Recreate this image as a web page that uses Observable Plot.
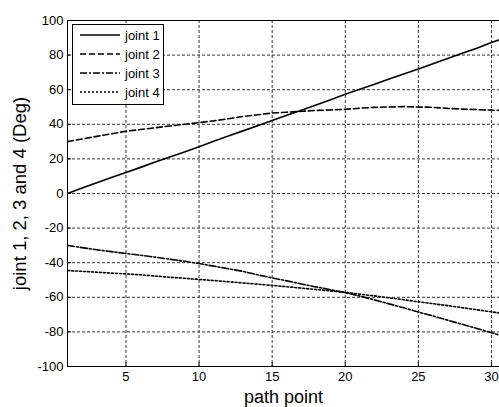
<!DOCTYPE html>
<html>
<head>
<meta charset="utf-8">
<script src="https://cdn.jsdelivr.net/npm/d3@7"></script>
<script src="https://cdn.jsdelivr.net/npm/@observablehq/plot@0.6"></script>
<style>
  body { margin: 0; background: #fff; }
  #chart svg { display: block; }
</style>
</head>
<body>
<div id="chart"></div>
<script>
const pathPoints = d3.range(1, 32);
const joint1 = [0, 3.2, 6.2, 9.2, 12.2, 15.1, 18.2, 21.1, 24.0, 27.0, 30.2, 33.3, 36.2, 39.2, 42.2, 45.2, 48.1, 51.1, 54.2, 57.3, 60.3, 63.2, 66.2, 69.1, 72.0, 75.0, 78.0, 81.0, 84.0, 87.3, 90.3];
const joint2 = [30, 31.5, 33, 34.5, 36, 37, 38, 39, 40, 41, 42, 43.2, 44.5, 45.5, 46.5, 47, 47.5, 48, 48.3, 48.7, 49.3, 49.8, 50, 50.2, 50, 49.8, 49.2, 48.8, 48.5, 48.2, 48];
const joint3 = [-30, -31.3, -32.5, -33.6, -34.7, -35.7, -36.8, -38, -39.2, -40.5, -42, -43.5, -45, -47, -48.8, -50.5, -52.3, -54, -55.6, -57.3, -59.3, -61.5, -63.8, -66.1, -68.5, -70.8, -73.2, -75.6, -78, -80.5, -83];
const joint4 = [-44.5, -45, -45.5, -46, -46.5, -47, -47.7, -48.4, -49, -49.7, -50.3, -51, -51.7, -52.4, -53.1, -53.9, -54.7, -55.5, -56.3, -57.2, -58.2, -59.2, -60.3, -61.4, -62.6, -63.7, -64.8, -66, -67.2, -68.4, -69.6];
const seriesNames = ["joint 1", "joint 2", "joint 3", "joint 4"];
const seriesValues = [joint1, joint2, joint3, joint4];
const dashes = ["none", "6,3", "7,2,2,2", "2,2"];
const xTicks = [5, 10, 15, 20, 25, 30];
const yTicks = [-100, -80, -60, -40, -20, 0, 20, 40, 60, 80, 100];

const rows = seriesNames.flatMap((name, i) =>
  pathPoints.map((p, j) => ({series: name, idx: i, x: p, y: seriesValues[i][j]})));

const font = "'Liberation Sans', Arial, sans-serif";
const fmt = d => String(d);

const chart = Plot.plot({
  width: 499,
  height: 407,
  marginLeft: 67,
  marginRight: 0,
  marginTop: 20,
  marginBottom: 41,
  style: {fontFamily: font, fontSize: "13px", color: "#000", background: "#fff"},
  x: {domain: [1, 30.55], ticks: xTicks},
  y: {domain: [-100, 100], ticks: yTicks},
  marks: [
    Plot.gridX(xTicks, {stroke: "#333", strokeOpacity: 1, strokeDasharray: "3,2"}),
    Plot.gridY(yTicks, {stroke: "#333", strokeOpacity: 1, strokeDasharray: "3,2"}),
    Plot.axisX(xTicks, {tickSize: 0, tickPadding: 5, tickFormat: fmt, label: "path point", labelAnchor: "center", labelArrow: "none", labelOffset: 36, fontSize: 13}),
    Plot.axisY(yTicks, {tickSize: 0, tickPadding: 4, tickFormat: fmt, label: "joint 1, 2, 3 and 4 (Deg)", labelAnchor: "center", labelArrow: "none", labelOffset: 55, fontSize: 13}),
    Plot.axisX(xTicks, {tickSize: -4, tickFormat: () => "", label: null}),
    Plot.axisY(yTicks, {tickSize: -4, tickFormat: () => "", label: null}),
    ...seriesNames.map((name, i) =>
      Plot.line(rows.filter(d => d.idx === i), {x: "x", y: "y", stroke: "#000", strokeWidth: 1.6, strokeDasharray: dashes[i], clip: true})),
    Plot.frame({stroke: "#000", strokeWidth: 1})
  ]
});

const svg = d3.select(chart);
svg.selectAll("[aria-label='x-axis label'] text").style("font-size", "18px");
svg.selectAll("[aria-label='y-axis label'] text").style("font-size", "18.5px");

// legend box in upper-left
const lg = svg.append("g").attr("font-family", font).attr("font-size", 13).attr("text-anchor", "start");
lg.append("rect").attr("x", 72.5).attr("y", 24.5).attr("width", 91).attr("height", 80)
  .attr("fill", "#fff").attr("stroke", "#000");
seriesNames.forEach((name, i) => {
  const yy = 35 + i * 19;
  lg.append("line").attr("x1", 80).attr("x2", 120).attr("y1", yy).attr("y2", yy)
    .attr("stroke", "#000").attr("stroke-width", 1.5).attr("stroke-dasharray", dashes[i]);
  lg.append("text").attr("x", 125).attr("y", yy).attr("dy", "0.35em").attr("text-anchor", "start").text(name);
});

document.getElementById("chart").appendChild(chart);
</script>
</body>
</html>
